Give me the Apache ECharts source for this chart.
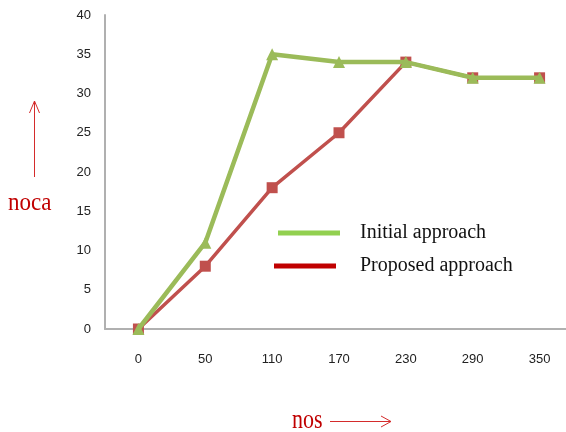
<!DOCTYPE html>
<html>
<head>
<meta charset="utf-8">
<script src="https://cdn.jsdelivr.net/npm/echarts@6/dist/echarts.min.js"></script>
<style>
  html, body { margin: 0; padding: 0; background: #fff; overflow: hidden; }
  /* the canvas is a little wider than the window so the plot runs off the right edge */
  #chart { width: 580px; height: 432px; }
</style>
</head>
<body>
<div id="chart"></div>
<script>
// Number of nodes on the x axis
const nosLabels = ['0', '50', '110', '170', '230', '290', '350'];
// noca values for each approach
const initialApproach = [0, 11, 35, 34, 34, 32, 32];
const proposedApproach = [0, 8, 18, 25, 34, 32, 32];
// y axis range
const yMin = 0, yMax = 40, yStep = 5;

const chart = echarts.init(document.getElementById('chart'));
const serif = '"Liberation Serif", "DejaVu Serif", serif';
const sans = '"Liberation Sans", "DejaVu Sans", sans-serif';
const axisColor = '#b0b0b0';
const arrowRed = '#d42b2b';

function legendBox(name, color, left, top, gap) {
  return {
    orient: 'vertical',
    left: left,
    top: top,
    itemWidth: 62,
    itemHeight: 5,
    icon: 'rect',
    textStyle: { fontFamily: serif, fontSize: 20, color: '#111', padding: [0, 0, 0, gap] },
    data: [{ name: name, itemStyle: { color: color } }]
  };
}

chart.setOption({
  animation: false,
  backgroundColor: '#ffffff',
  grid: { left: 105, right: 7, top: 15, bottom: 103, containLabel: false },
  xAxis: {
    type: 'category',
    data: nosLabels,
    boundaryGap: true,
    axisLine: { lineStyle: { color: axisColor, width: 2 } },
    axisTick: { show: false },
    axisLabel: { color: '#222', fontSize: 13, fontFamily: sans, margin: 24 },
    splitLine: { show: false }
  },
  yAxis: {
    type: 'value',
    min: yMin, max: yMax, interval: yStep,
    axisLine: { show: true, lineStyle: { color: axisColor, width: 2 } },
    axisTick: { show: false },
    axisLabel: { color: '#222', fontSize: 13, fontFamily: sans, margin: 14 },
    splitLine: { show: false }
  },
  legend: [
    legendBox('Initial approach', '#92d050', 273, 218, 15),
    legendBox('Proposed approach', '#c00000', 269, 251, 19)
  ],
  series: [
    {
      name: 'Proposed approach',
      type: 'line',
      data: proposedApproach,
      symbol: 'rect',
      symbolSize: 11,
      lineStyle: { color: '#c0504d', width: 3.5 },
      itemStyle: { color: '#c0504d' },
      z: 2
    },
    {
      name: 'Initial approach',
      type: 'line',
      data: initialApproach,
      symbol: 'triangle',
      symbolSize: 12,
      lineStyle: { color: '#9bbb59', width: 4.5 },
      itemStyle: { color: '#9bbb59' },
      z: 3
    }
  ],
  graphic: [
    // y axis title with upward arrow
    { type: 'text', x: 8, y: 216, scaleY: 1.05,
      style: { text: 'noca', font: '23px ' + serif, fill: '#c00000', textVerticalAlign: 'bottom' } },
    { type: 'line', shape: { x1: 34.5, y1: 177, x2: 34.5, y2: 101 }, style: { stroke: arrowRed, lineWidth: 1 } },
    { type: 'polyline', shape: { points: [[29.5, 113], [34.5, 101], [39.5, 113]] }, style: { stroke: arrowRed, lineWidth: 1, fill: null } },
    // x axis title with rightward arrow
    { type: 'text', x: 292, y: 434, scaleY: 1.2,
      style: { text: 'nos', font: '22px ' + serif, fill: '#c00000', textVerticalAlign: 'bottom' } },
    { type: 'line', shape: { x1: 330, y1: 421.5, x2: 391, y2: 421.5 }, style: { stroke: arrowRed, lineWidth: 1 } },
    { type: 'polyline', shape: { points: [[381, 416], [391, 421.5], [381, 427]] }, style: { stroke: arrowRed, lineWidth: 1, fill: null } }
  ]
});
</script>
</body>
</html>
